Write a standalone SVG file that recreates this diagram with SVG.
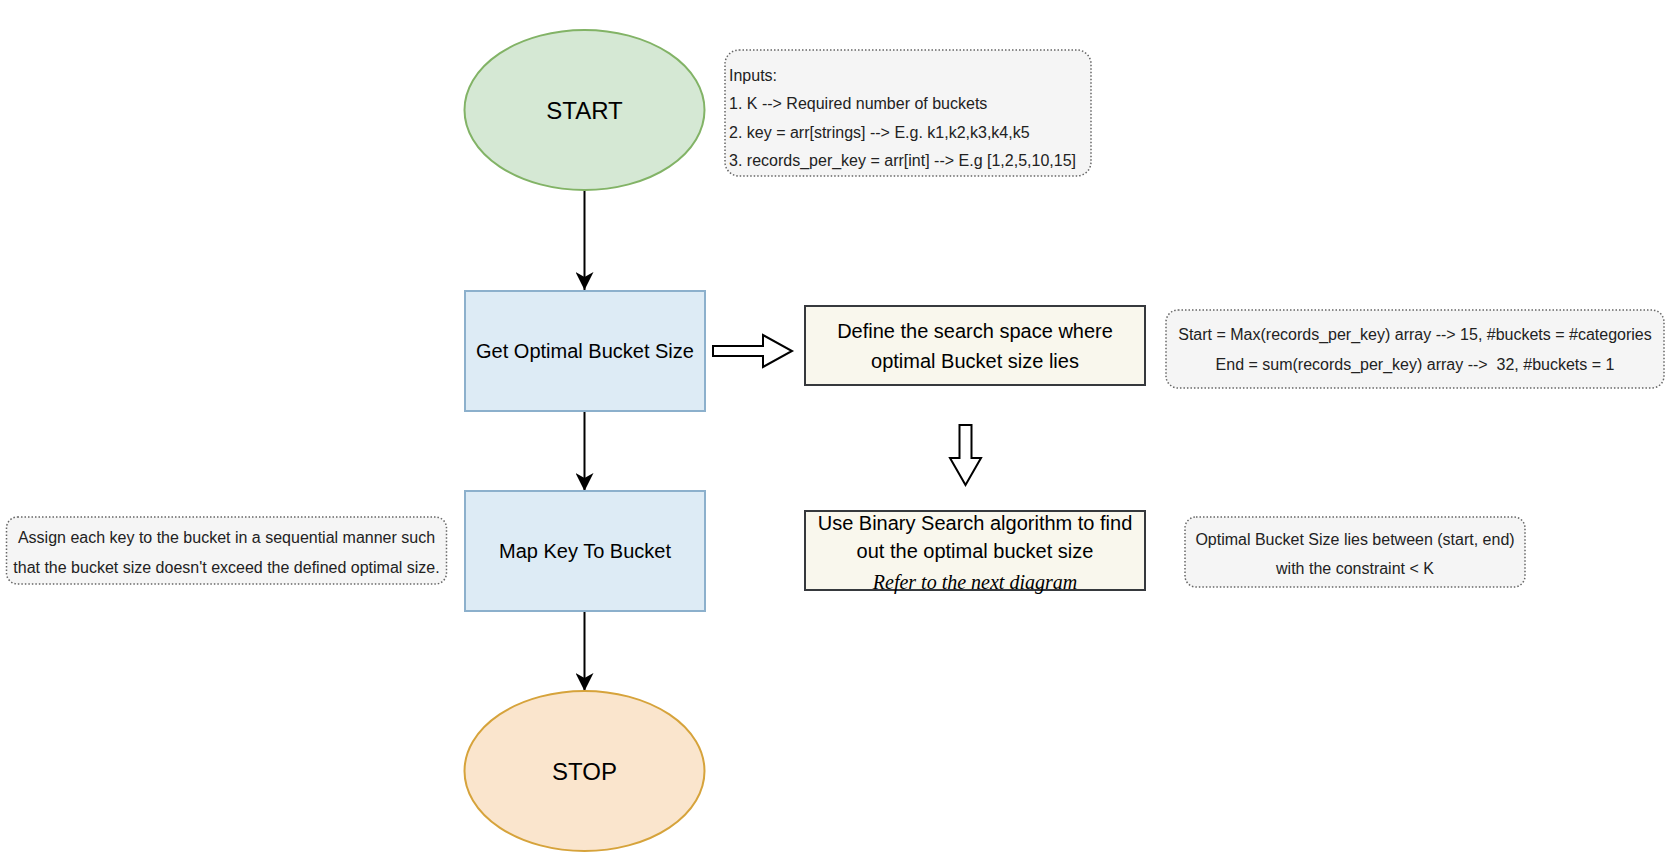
<svg xmlns="http://www.w3.org/2000/svg" width="1674" height="856" viewBox="0 0 1674 856">
<defs>
<style>
text{font-family:"Liberation Sans",Arial,sans-serif;fill:#000;dominant-baseline:central}
.big{font-size:20px;text-anchor:middle}
.term{font-size:24px;text-anchor:middle}
.note{font-size:16px;fill:#222}
.notec{font-size:16px;fill:#222;text-anchor:middle;white-space:pre}
.ital{font-family:"Liberation Serif","Times New Roman",serif;font-style:italic;font-size:20px;text-anchor:middle}
.proc{fill:#ddebf5;stroke:#8cb0cc;stroke-width:2}
.step{fill:#f9f7ed;stroke:#36393d;stroke-width:2}
.dot{fill:#f5f5f5;stroke:#666;stroke-width:1.5;stroke-dasharray:1.5 2}
.conn{stroke:#000;stroke-width:2;fill:none}
.block{fill:#fff;stroke:#000;stroke-width:2;stroke-linejoin:miter}
</style>
<marker id="arr" markerUnits="userSpaceOnUse" viewBox="0 0 18 18" refX="18" refY="9" markerWidth="18" markerHeight="18" orient="auto">
<path d="M0,0 L18,9 L0,18 L5,9 z" fill="#000"/>
</marker>
</defs>
<rect width="1674" height="856" fill="#fff"/>

<g id="connectors">
<line class="conn" x1="584.5" y1="190" x2="584.5" y2="290" marker-end="url(#arr)"/>
<line class="conn" x1="584.5" y1="411" x2="584.5" y2="491" marker-end="url(#arr)"/>
<line class="conn" x1="584.5" y1="611" x2="584.5" y2="691" marker-end="url(#arr)"/>
<path class="block" d="M713,346 L763,346 L763,335 L792,351 L763,367 L763,356 L713,356 Z"/>
<path class="block" d="M959.5,425 L971.5,425 L971.5,458 L981,458 L965.5,485 L950,458 L959.5,458 Z"/>
</g>

<g id="start">
<ellipse cx="584.5" cy="110" rx="120" ry="80" fill="#d5e8d4" stroke="#82b366" stroke-width="2"/>
<text class="term" x="584.5" y="110">START</text>
</g>

<g id="inputs">
<rect class="dot" x="725" y="50" width="366" height="126" rx="14"/>
<text class="note" x="729" y="75">Inputs:</text>
<text class="note" x="729" y="103.5">1. K --&gt; Required number of buckets</text>
<text class="note" x="729" y="132">2. key = arr[strings] --&gt; E.g. k1,k2,k3,k4,k5</text>
<text class="note" x="729" y="160.5" textLength="347" lengthAdjust="spacingAndGlyphs">3. records_per_key = arr[int] --&gt; E.g [1,2,5,10,15]</text>
</g>

<g id="get-optimal">
<rect class="proc" x="465" y="291" width="240" height="120"/>
<text class="big" x="585" y="351">Get Optimal Bucket Size</text>
</g>

<g id="define-space">
<rect class="step" x="805" y="306" width="340" height="79"/>
<text class="big" x="975" y="331">Define the search space where</text>
<text class="big" x="975" y="361">optimal Bucket size lies</text>
</g>

<g id="start-end-note">
<rect class="dot" x="1166" y="310" width="498" height="78" rx="12"/>
<text class="notec" x="1415" y="334">Start = Max(records_per_key) array --&gt; 15, #buckets = #categories</text>
<text class="notec" x="1415" y="364" xml:space="preserve">End = sum(records_per_key) array --&gt;  32, #buckets = 1</text>
</g>

<g id="map-key">
<rect class="proc" x="465" y="491" width="240" height="120"/>
<text class="big" x="585" y="551">Map Key To Bucket</text>
</g>

<g id="assign-note">
<rect class="dot" x="6.5" y="517" width="440" height="67" rx="11"/>
<text class="notec" x="226.5" y="537">Assign each key to the bucket in a sequential manner such</text>
<text class="notec" x="226.5" y="567">that the bucket size doesn't exceed the defined optimal size.</text>
</g>

<g id="binary-search">
<rect class="step" x="805" y="511" width="340" height="79"/>
<text class="big" x="975" y="523">Use Binary Search algorithm to find</text>
<text class="big" x="975" y="551">out the optimal bucket size</text>
<text class="ital" x="975" y="582">Refer to the next diagram</text>
</g>

<g id="optimal-note">
<rect class="dot" x="1185" y="517" width="340" height="70" rx="11"/>
<text class="notec" x="1355" y="539">Optimal Bucket Size lies between (start, end)</text>
<text class="notec" x="1355" y="568">with the constraint &lt; K</text>
</g>

<g id="stop">
<ellipse cx="584.5" cy="771" rx="120" ry="80" fill="#fae5cd" stroke="#d6a33b" stroke-width="2"/>
<text class="term" x="584.5" y="771">STOP</text>
</g>
</svg>
